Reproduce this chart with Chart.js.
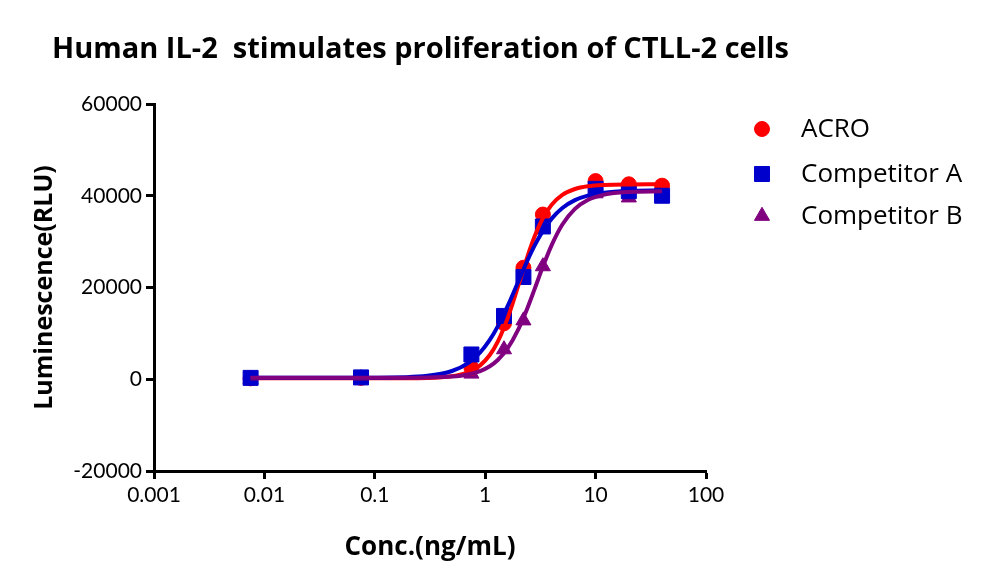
<!DOCTYPE html>
<html>
<head>
<meta charset="utf-8">
<script src="https://cdn.jsdelivr.net/npm/chart.js@4"></script>
<style>
  html, body { margin: 0; padding: 0; background: #fff; }
  #wrap { width: 1000px; height: 587px; }
</style>
</head>
<body>
<div id="wrap"><canvas id="grafico" width="1000" height="587"></canvas></div>
<script>
const tituloGrafico = 'Human IL-2  stimulates proliferation of CTLL-2 cells'
const seriesNames = ['ACRO', 'Competitor A', 'Competitor B']

// measured points (ng/mL -> RLU)
const conc = [0.0075, 0.075, 0.75, 1.48, 2.22, 3.33, 10, 20, 40]
const acro = [200, 300, 2500, 12200, 24300, 35900, 43200, 42500, 42200]
const compA = [300, 400, 5400, 13800, 22300, 33300, 41500, 41000, 40000]
const compB = [0, 200, 1200, 6500, 12800, 24600, 40500, 39600, 41000]

// fitted curves
const fitConc = [0.0075, 0.1, 0.3, 0.5, 0.7, 0.9, 1.1, 1.3, 1.6, 2, 2.4, 2.8, 3.3, 4, 5, 6.5, 8.5, 12, 20, 40]
const acroFit = [200, 200, 290, 660, 1520, 3030, 5280, 8190, 13380, 20520, 26570, 31100, 34930, 38050, 40190, 41470, 42060, 42350, 42470, 42500]
const compAFit = [300, 330, 750, 1800, 3520, 5830, 8560, 11520, 15990, 21370, 25740, 29110, 32180, 35010, 37330, 39050, 40040, 40680, 41050, 41170]
const compBFit = [300, 300, 370, 590, 1050, 1780, 2830, 4190, 6780, 10930, 15380, 19650, 24290, 29240, 33730, 37150, 39090, 40250, 40820, 40970]

const xTicks = [0.001, 0.01, 0.1, 1, 10, 100]
const yTicks = [-20000, 0, 20000, 40000, 60000]

const cores = ['#FF0000', '#0000CC', '#800080']
const estilos = ['circle', 'rect', 'triangle']
const raios = [7.5, 10.6, 8.7]

const padLeft = 30
const padBottom = 20

function pts(xs, ys) {
  return xs.map((x, i) => ({ x, y: ys[i] }))
}

function pontos(i, ys) {
  return {
    label: seriesNames[i],
    data: pts(conc, ys),
    showLine: false,
    pointStyle: estilos[i],
    pointRadius: raios[i],
    pointBackgroundColor: cores[i],
    pointBorderColor: cores[i],
    pointBorderWidth: 1
  }
}

function curva(i, ys) {
  return {
    label: seriesNames[i] + ' fit',
    data: pts(fitConc, ys),
    showLine: true,
    borderColor: cores[i],
    borderWidth: 4,
    pointRadius: 0,
    cubicInterpolationMode: 'monotone',
    fill: false
  }
}

const extras = {
  id: 'extras',
  afterDraw(chart) {
    const ctx = chart.ctx
    ctx.save()
    ctx.fillStyle = '#000'
    ctx.font = 'bold 29px "Open Sans"'
    ctx.textBaseline = 'alphabetic'
    ctx.textAlign = 'left'
    ctx.fillText(tituloGrafico, 52, 58)

    const legY = [129, 174, 216]
    ctx.font = '26px "Open Sans"'
    ctx.textBaseline = 'middle'
    seriesNames.forEach((nome, i) => {
      ctx.fillStyle = cores[i]
      ctx.strokeStyle = cores[i]
      Chart.helpers.drawPoint(ctx, { pointStyle: estilos[i], radius: raios[i], rotation: 0, borderWidth: 1 }, 762, legY[i])
      ctx.fillStyle = '#000'
      ctx.fillText(nome, 801, legY[i] + 1)
    })
    ctx.restore()
  }
}

new Chart(document.getElementById('grafico'), {
  type: 'scatter',
  data: {
    datasets: [
      curva(2, compBFit),
      curva(1, compAFit),
      curva(0, acroFit),
      pontos(1, compA),
      pontos(0, acro),
      pontos(2, compB)
    ]
  },
  plugins: [extras],
  options: {
    responsive: false,
    animation: false,
    layout: { padding: { left: padLeft, right: 294, top: 104, bottom: padBottom } },
    plugins: {
      legend: { display: false },
      tooltip: { enabled: false }
    },
    scales: {
      x: {
        type: 'logarithmic',
        min: 0.001,
        max: 100,
        afterBuildTicks: s => { s.ticks = xTicks.map(v => ({ value: v })) },
        afterFit: s => { s.height = 587 - padBottom - 471 },
        ticks: {
          color: '#000',
          font: { family: 'Lato', size: 21 },
          padding: 4,
          maxRotation: 0,
          callback: v => String(v)
        },
        grid: { drawOnChartArea: false, drawTicks: true, tickLength: 8, tickColor: '#000', tickWidth: 3 },
        border: { display: true, color: '#000', width: 3 },
        title: { display: true, text: 'Conc.(ng/mL)', color: '#000', font: { family: 'Open Sans', size: 26, weight: 'bold' }, padding: { top: 8 } }
      },
      y: {
        min: -20000,
        max: 60000,
        afterBuildTicks: s => { s.ticks = yTicks.map(v => ({ value: v })) },
        afterFit: s => { s.width = 154 - padLeft },
        ticks: {
          color: '#000',
          font: { family: 'Lato', size: 21 },
          padding: 4,
          callback: v => String(v)
        },
        grid: { drawOnChartArea: false, drawTicks: true, tickLength: 8, tickColor: '#000', tickWidth: 3 },
        border: { display: true, color: '#000', width: 3 },
        title: { display: true, text: 'Luminescence(RLU)', color: '#000', font: { family: 'Open Sans', size: 25, weight: 'bold' }, padding: 0 }
      }
    }
  }
})
</script>
</body>
</html>
